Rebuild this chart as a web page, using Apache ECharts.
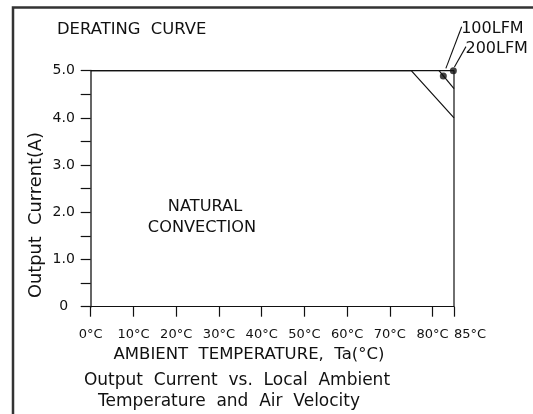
<!DOCTYPE html>
<html><head><meta charset="utf-8">
<script src="https://cdn.jsdelivr.net/npm/echarts@6/dist/echarts.min.js"></script>
<style>html,body{margin:0;padding:0;background:#fff}#c{width:533px;height:414px}</style>
</head><body><div id="c"></div>
<script>
// ---- data ----
const xTicks = [0, 10, 20, 30, 40, 50, 60, 70, 80, 85];
const xTickLabels = ['0°C', '10°C', '20°C', '30°C', '40°C', '50°C', '60°C', '70°C', '80°C', '85°C'];
const yTicks = [0, 0.5, 1, 1.5, 2, 2.5, 3, 3.5, 4, 4.5, 5];
const yLabelValues = [0, 1, 2, 3, 4, 5];
const yTickLabels = ['0', '1.0', '2.0', '3.0', '4.0', '5.0'];
const naturalConvection = [[0, 5.0], [75, 5.0], [85, 4.0]];
const lfm100 = [[81.5, 5.0], [85, 4.62]];
const lfm200 = [[0, 5.0], [85, 5.0], [85, 0]];
const markerPoints = [[82.5, 4.89], [84.85, 5.0]];
// leader lines: [x1, y1, x2, y2] in data units
const leader100 = [83.1, 5.05, 86.8, 5.93];
const leader200 = [85.1, 5.08, 87.8, 5.51];
const seriesNames = ['100LFM', '200LFM'];
const titleText = 'DERATING  CURVE';
const xName = 'AMBIENT  TEMPERATURE,  Ta(°C)';
const yName = 'Output  Current(A)';
const captionLines = ['Output  Current  vs.  Local  Ambient', 'Temperature  and  Air  Velocity'];
const regionLabel = ['NATURAL', 'CONVECTION'];

const FONT = 'DejaVu Sans';
const INK = '#111';
const chart = echarts.init(document.getElementById('c'), null, {renderer: 'canvas'});

const lineStyle = {color: INK, width: 1.2};
function lineSeries(name, data) {
  return {
    name, type: 'line', data, symbol: 'none', clip: false, silent: true,
    lineStyle: lineStyle, animation: false
  };
}

chart.setOption({
  animation: false,
  backgroundColor: '#fff',
  textStyle: {fontFamily: FONT, color: INK},
  title: [{
    text: titleText, left: 52, top: 17,
    textStyle: {fontFamily: FONT, fontSize: 16.4, fontWeight: 'normal', color: INK}
  }],
  grid: {left: 90.7, right: 79, top: 70.7, bottom: 107.3, containLabel: false},
  xAxis: {
    type: 'value', min: 0, max: 85,
    axisLine: {show: true, lineStyle: {color: INK, width: 1.2}},
    axisTick: {show: true, inside: false, length: 10, customValues: xTicks, lineStyle: {color: INK, width: 1.2}},
    axisLabel: {
      show: true, customValues: xTicks, margin: 21, fontFamily: FONT, fontSize: 13, color: INK,
      alignMaxLabel: 'left',
      formatter: v => xTickLabels[xTicks.indexOf(v)] || ''
    },
    splitLine: {show: false}
  },
  yAxis: {
    type: 'value', min: 0, max: 5,
    axisLine: {show: true, lineStyle: {color: '#555', width: 1.8}},
    axisTick: {show: true, inside: false, length: 10, customValues: yTicks, lineStyle: {color: INK, width: 1.2}},
    axisLabel: {
      show: true, customValues: yLabelValues, margin: 27, align: 'center', fontFamily: FONT, fontSize: 14, color: INK,
      formatter: v => yTickLabels[yLabelValues.indexOf(v)] || ''
    },
    splitLine: {show: false}
  },
  series: [
    lineSeries('NATURAL CONVECTION', naturalConvection),
    lineSeries(seriesNames[0], lfm100),
    lineSeries(seriesNames[1], lfm200),
    {
      type: 'scatter', data: markerPoints, symbol: 'circle', symbolSize: 7,
      itemStyle: {color: INK}, silent: true, clip: false
    },
    {
      type: 'custom', clip: false, silent: true,
      data: [leader100.concat([0]), leader200.concat([1])],
      renderItem: function (params, api) {
        const p1 = api.coord([api.value(0), api.value(1)]);
        const p2 = api.coord([api.value(2), api.value(3)]);
        const name = seriesNames[api.value(4)];
        return {
          type: 'group',
          children: [
            {type: 'line', shape: {x1: p1[0], y1: p1[1], x2: p2[0], y2: p2[1]},
              style: {stroke: INK, lineWidth: 1.1}},
            {type: 'text', x: p2[0] - 0.5, y: p2[1] + 2,
              style: {text: name, fontFamily: FONT, fontSize: 16, fill: INK, align: 'left', verticalAlign: 'middle'}}
          ]
        };
      }
    }
  ],
  graphic: [
    {type: 'rect', shape: {x: 13, y: 7.5, width: 700, height: 600}, style: {fill: 'none', stroke: '#333', lineWidth: 2.5}, silent: true},
    {type: 'text', x: 36, y: 215, rotation: Math.PI / 2,
      style: {text: yName, fontFamily: FONT, fontSize: 17.8, fill: INK, align: 'center', verticalAlign: 'middle'}},
    {type: 'text', x: 249, y: 355,
      style: {text: xName, fontFamily: FONT, fontSize: 16.5, fill: INK, align: 'center', verticalAlign: 'middle'}},
    {type: 'text', x: 237, y: 381,
      style: {text: captionLines[0], fontFamily: FONT, fontSize: 17, fill: INK, align: 'center', verticalAlign: 'middle'}},
    {type: 'text', x: 229, y: 402,
      style: {text: captionLines[1], fontFamily: FONT, fontSize: 17, fill: INK, align: 'center', verticalAlign: 'middle'}},
    {type: 'text', x: 205, y: 207,
      style: {text: regionLabel[0], fontFamily: FONT, fontSize: 16.2, fill: INK, align: 'center', verticalAlign: 'middle'}},
    {type: 'text', x: 202, y: 228,
      style: {text: regionLabel[1], fontFamily: FONT, fontSize: 16.2, fill: INK, align: 'center', verticalAlign: 'middle'}}
  ]
});
</script>
</body></html>
